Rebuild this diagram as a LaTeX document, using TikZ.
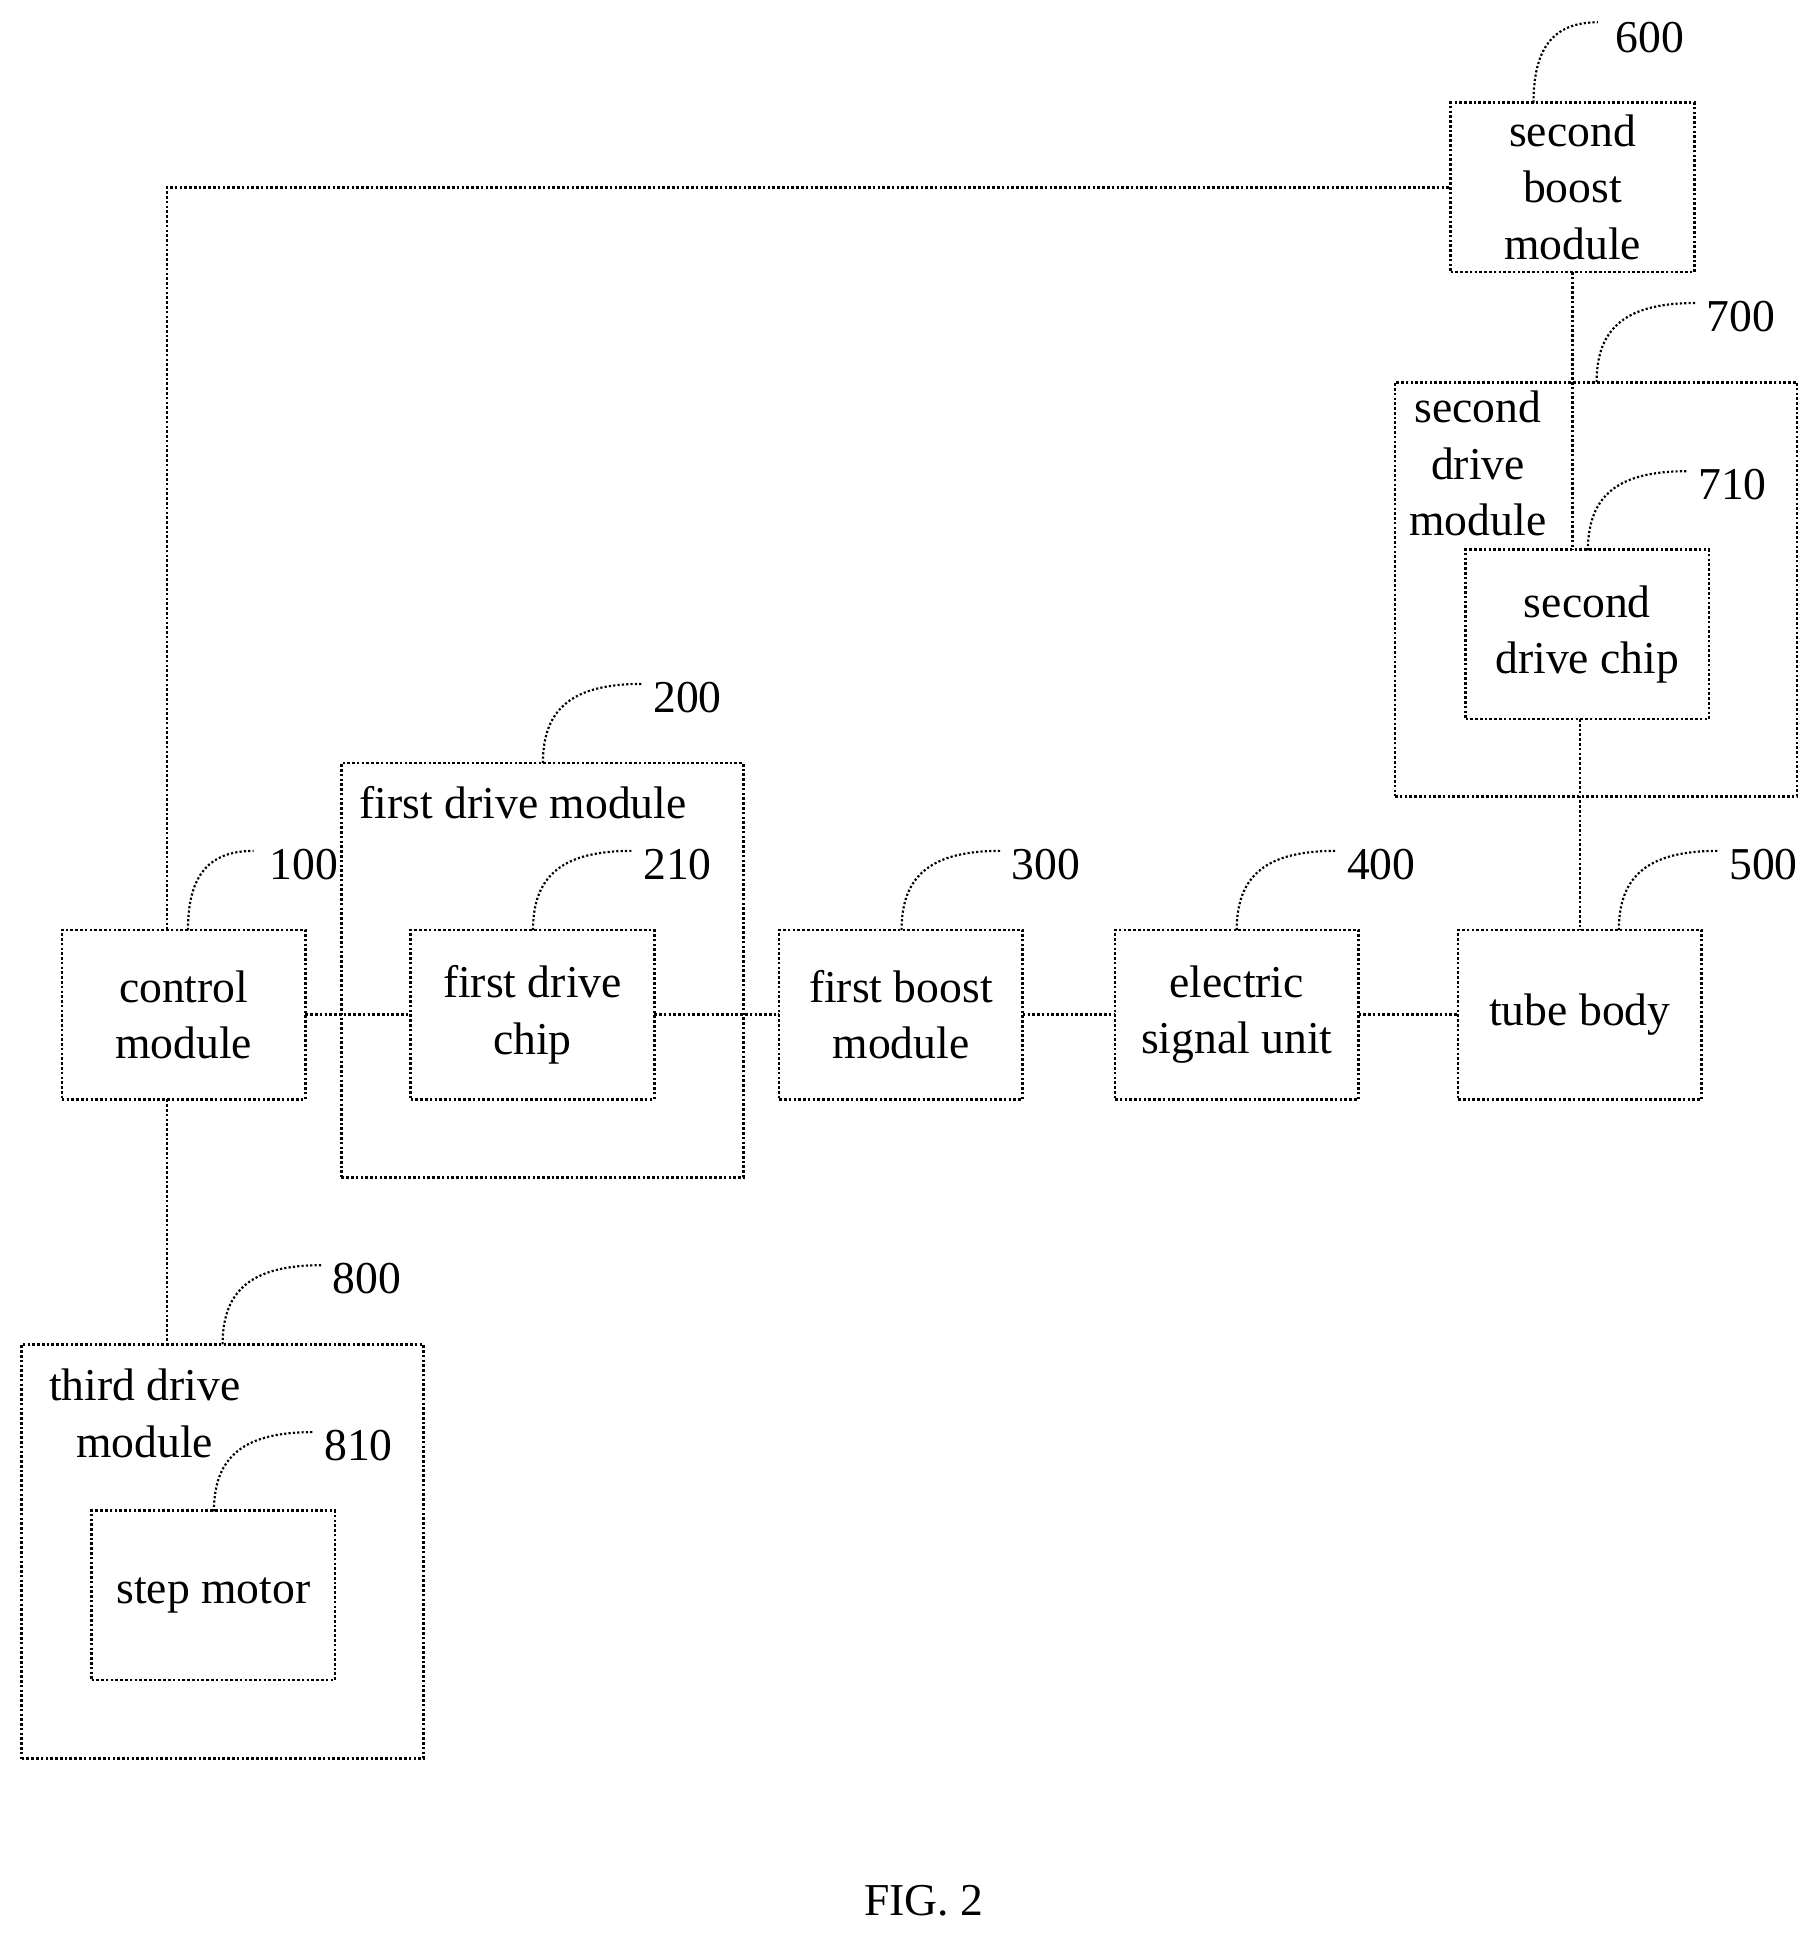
\documentclass[tikz,border=0pt]{standalone}
\usepackage{fontspec}
\setmainfont{Liberation Serif}
\begin{document}
\begin{tikzpicture}[x=0.02cm,y=-0.02cm,
  box/.style={draw,densely dotted,line width=1.2pt,inner sep=0pt,outer sep=0pt,align=center,font=\fontsize{21}{26}\selectfont},
  sm/.style={box,minimum width=3.94cm,minimum height=2.74cm},
  big/.style={box,minimum width=6.5cm,minimum height=6.7cm},
  wire/.style={densely dotted,line width=1.2pt},
  lead/.style={densely dotted,line width=1pt},
  lbl/.style={font=\fontsize{21}{26}\selectfont,align=center}]
\useasboundingbox (0,0) rectangle (1470,1563);
\newcommand{\ldr}[4]{%
  \draw[lead] (#1,#2) .. controls (#1,#2-45) and (#1+25,#2-64) .. (#1+80,#2-64);
  \node[lbl,anchor=west] (#4) at (#1+83,#2-53) {#3};}
\node[big] (n700) at (1290.5,476.5) {};
\node[big] (n200) at (438.5,784.5) {};
\node[big] (n800) at (180,1254.5) {};
\node[sm] (n600) at (1271.5,151.5) {second\\boost\\module};
\node[sm] (n710) at (1283.5,513) {second\\drive chip};
\node[sm] (n210) at (430.5,820.5) {first drive\\chip};
\node[sm] (n100) at (148.5,820.5) {control\\module};
\node[sm] (n300) at (728.5,820.5) {first boost\\module};
\node[sm] (n400) at (1000,820.5) {electric\\signal unit};
\node[sm] (n500) at (1277.5,820.5) {tube body};
\node[sm] (n810) at (172.5,1290) {step motor};
\node[lbl] (t700) at (1195,375) {second\\drive\\module};
\node[lbl] (t200) at (423,649) {first drive module};
\node[lbl] (t800) at (117,1143) {third drive\\module};
\node[lbl] (fig) at (747,1537) {FIG. 2};
\draw[wire] (n100.east) -- (n210.west);
\draw[wire] (n210.east) -- (n300.west);
\draw[wire] (n300.east) -- (n400.west);
\draw[wire] (n400.east) -- (n500.west);
\draw[wire] ([xshift=-0.27cm]n100.north) |- (n600.west);
\draw[wire] (n600.south) -- (n600.south |- n710.north);
\draw[wire] (n500.north |- n710.south) -- (n500.north);
\draw[wire] ([xshift=-0.27cm]n100.south) -- ([xshift=-0.27cm]n100.south |- n800.north);
\draw[lead] (1240,83) .. controls (1240,40) and (1255,18) .. (1292,18);
\node[lbl,anchor=west] (l600) at (1300,30) {600};
\ldr{1291}{309}{700}{l700}
\ldr{1284}{445}{710}{l710}
\ldr{439}{617}{200}{l200}
\ldr{431}{752}{210}{l210}
\draw[lead] (152,752) .. controls (152,710) and (167,688) .. (205,688);
\node[lbl,anchor=west] (l100) at (212,699) {100};
\ldr{729}{752}{300}{l300}
\ldr{1000}{752}{400}{l400}
\ldr{1309}{752}{500}{l500}
\ldr{180}{1087}{800}{l800}
\ldr{173}{1222}{810}{l810}
\end{tikzpicture}
\end{document}
